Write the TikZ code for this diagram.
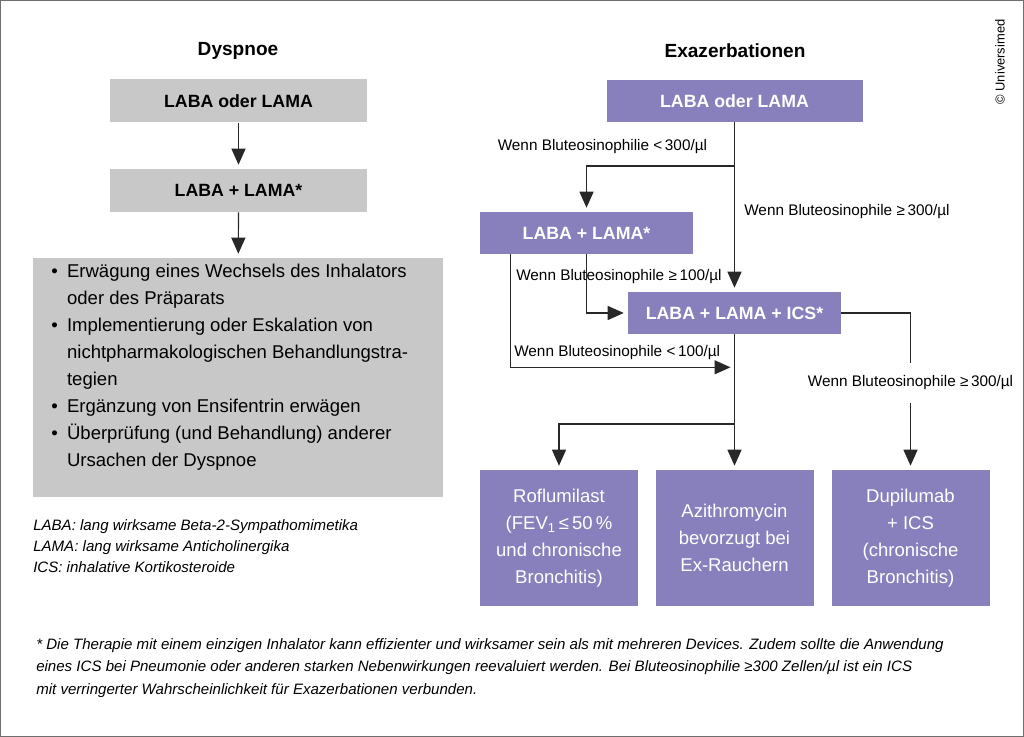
\documentclass[tikz,border=0pt]{standalone}
\usepackage{fontspec}
\setmainfont{Liberation Sans}
\usetikzlibrary{arrows.meta}
\definecolor{exlila}{RGB}{136,128,188}
\definecolor{dysgrau}{RGB}{200,200,200}
\definecolor{rahmen}{RGB}{110,110,110}
\definecolor{strich}{RGB}{40,40,40}

\begin{document}
\begin{tikzpicture}[x=0.75pt,y=0.75pt,yscale=-1,xscale=1,
  pfeil/.style={draw=strich, line width=0.9pt, -{Triangle[length=12pt,width=10.5pt]}, shorten >=3pt},
  linie/.style={draw=strich, line width=0.9pt},
  grauknoten/.style={fill=dysgrau, inner sep=0pt, minimum width=192.75pt, minimum height=32.25pt, font=\fontsize{13.3}{16}\selectfont\bfseries},
  lilaknoten/.style={fill=exlila, text=white, inner sep=0pt, minimum height=31.5pt, font=\fontsize{13.3}{16}\selectfont\bfseries},
  endknoten/.style={fill=exlila, text=white, inner sep=0pt, minimum width=118.5pt, minimum height=102pt, align=center, font=\fontsize{13.9}{20.25}\selectfont},
  hinweis/.style={inner sep=0pt, font=\fontsize{11.5}{14}\selectfont},
  titel/.style={inner sep=0pt, font=\fontsize{14.3}{17}\selectfont\bfseries}]
\useasboundingbox (0,0) rectangle (1024,737);

%Rahmen
\draw [rahmen, line width=1.1pt] (0.75,0.75) rectangle (1023.25,736.25);
\node [rotate=90, inner sep=0pt, font=\fontsize{9.7}{12}\selectfont] (copyright) at (1000,62) {© Universimed};

%Dyspnoe
\node [titel] (dysTitel) at (238,51) {Dyspnoe};
\node [grauknoten] (dysA) at (238.5,101) {LABA oder LAMA};
\node [grauknoten] (dysB) at (238.5,190.5) {LABA + LAMA*};
\node [fill=dysgrau, inner sep=0pt, minimum width=307.5pt, minimum height=179.25pt] (dysC) at (238,377.5) {};
\node [anchor=north west, inner sep=0pt, font=\fontsize{13.9}{20.25}\selectfont] (dysListe) at (51,258) {\begin{tabular}{@{}l@{\hspace{7pt}}l@{}}
\textbullet & Erwägung eines Wechsels des Inhalators\\
 & oder des Präparats\\
\textbullet & Implementierung oder Eskalation von\\
 & nichtpharmakologischen Behandlungstra-\\
 & tegien\\
\textbullet & Ergänzung von Ensifentrin erwägen\\
\textbullet & Überprüfung (und Behandlung) anderer\\
 & Ursachen der Dyspnoe
\end{tabular}};
\draw [pfeil] (dysA) -- (dysB);
\draw [pfeil] (dysB) -- (dysC);

%Legende
\node [anchor=north west, inner sep=0pt, align=left, font=\fontsize{11.3}{15.75}\selectfont\itshape] (legende) at (33,519) {LABA: lang wirksame Beta-2-Sympathomimetika\\LAMA: lang wirksame Anticholinergika\\ICS: inhalative Kortikosteroide};

%Exazerbationen
\node [titel] (exTitel) at (735,51) {Exazerbationen};
\node [lilaknoten, minimum width=192pt] (exA) at (734.5,101) {LABA oder LAMA};
\node [lilaknoten, minimum width=159.75pt] (exB) at (586.5,233) {LABA + LAMA*};
\node [lilaknoten, minimum width=159.75pt] (exC) at (734.5,313) {LABA + LAMA + ICS*};

\node [endknoten] (b1) at (559,538) {Roflumilast\\(FEV\textsubscript{1}\,≤\,50\,\%\\und chronische\\Bronchitis)};
\node [endknoten] (b2) at (734.5,538) {Azithromycin\\bevorzugt bei\\Ex-Rauchern};
\node [endknoten] (b3) at (910.5,538) {Dupilumab\\+ ICS\\(chronische\\Bronchitis)};

\node [hinweis, anchor=west] (l300a) at (497.5,147) {Wenn Bluteosinophilie <\,300/µl};
\node [hinweis, anchor=west] (l300b) at (744,212) {Wenn Bluteosinophile ≥\,300/µl};
\node [hinweis, anchor=west] (l100a) at (516,277) {Wenn Bluteosinophile ≥\,100/µl};
\node [hinweis, anchor=west] (l100b) at (514,353) {Wenn Bluteosinophile <\,100/µl};
\node [hinweis, inner ysep=9.6pt] (l300c) at (910.5,383) {Wenn Bluteosinophile ≥\,300/µl};

\coordinate (gabelA) at (734.5,166);
\coordinate (ziel100) at (734.5,367.3);
\coordinate (gabelB) at (734.5,424);

\draw [pfeil] (exA) -- (exC);
\draw [pfeil] (gabelA) -| (exB);
\draw [pfeil] (exB) |- (exC);
\draw [pfeil] ([xshift=23pt]exB.south west) |- (ziel100);
\draw [linie] (exC) -| (l300c.north);
\draw [pfeil] (l300c.south) -- (b3);
\draw [pfeil] (exC) -- (b2);
\draw [pfeil] (gabelB) -| (b1);

%Fussnote
\node [anchor=north west, inner sep=0pt, align=left, font=\fontsize{11.3}{16.9}\selectfont\itshape] (fussnote) at (36,638) {* Die Therapie mit einem einzigen Inhalator kann effizienter und wirksamer sein als mit mehreren Devices. Zudem sollte die Anwendung\\eines ICS bei Pneumonie oder anderen starken Nebenwirkungen reevaluiert werden. Bei Bluteosinophilie ≥300 Zellen/µl ist ein ICS\\mit verringerter Wahrscheinlichkeit für Exazerbationen verbunden.};

\end{tikzpicture}
\end{document}
